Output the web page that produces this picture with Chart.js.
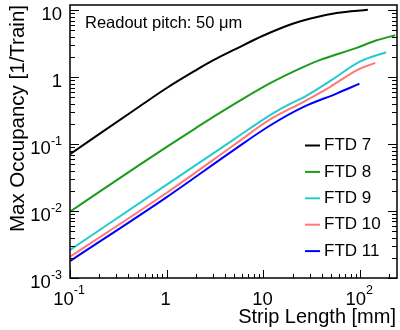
<!DOCTYPE html>
<html>
<head>
    <title>Max Occupancy</title>
    <script src="https://cdn.jsdelivr.net/npm/chart.js@4.4.1/dist/chart.umd.min.js"></script>
    <style>
        body { margin: 0; background: #fff; }
    </style>
</head>
<body>
    <canvas id="myChart" width="400" height="330"></canvas>
    <script>
        // strip length [mm] / max occupancy [1/Train]
        var ftd7X = [0.1, 0.5, 1, 2, 3, 5, 10, 20, 30, 57, 120];
        var ftd7Y = [0.071, 0.35, 0.69, 1.27, 1.78, 2.58, 4.2, 6.3, 7.5, 9.1, 10.2];
        var ftd8X = [0.1, 0.5, 1, 2, 3, 5.6, 12, 26, 38, 92, 148, 230];
        var ftd8Y = [0.0098, 0.047, 0.091, 0.174, 0.253, 0.44, 0.83, 1.43, 1.8, 2.75, 3.56, 4.24];
        var ftd9X = [0.1, 1, 5, 11.7, 18.8, 26, 49, 100, 185];
        var ftd9Y = [0.00262, 0.0248, 0.119, 0.272, 0.40, 0.50, 0.88, 1.72, 2.36];
        var ftd10X = [0.1, 1, 5, 11.7, 26, 49, 92, 143];
        var ftd10Y = [0.00208, 0.0188, 0.098, 0.234, 0.43, 0.72, 1.27, 1.64];
        var ftd11X = [0.1, 1, 5, 11.7, 26, 57, 98];
        var ftd11Y = [0.00179, 0.0162, 0.083, 0.19, 0.36, 0.57, 0.80];

        var seriesNames = ['FTD 7', 'FTD 8', 'FTD 9', 'FTD 10', 'FTD 11'];
        var seriesColors = ['#000000', '#1c9c1c', '#22cccc', '#ff7777', '#0000ff'];

        // axis ticks
        var xTickValues = [0.1, 1, 10, 100];
        var xTickBase = ['10', '1', '10', '10'];
        var xTickExp = ['-1', '', '', '2'];
        var yTickValues = [0.001, 0.01, 0.1, 1, 10];
        var yTickBase = ['10', '10', '10', '1', '10'];
        var yTickExp = ['-3', '-2', '-1', '', ''];

        var noteText = 'Readout pitch: 50 \u03bcm';
        var xTitle = 'Strip Length [mm]';
        var yTitle = 'Max Occupancy [1/Train]';

        var FONT = '"Liberation Sans", Arial, sans-serif';

        function pts(xs, ys) {
            var out = [];
            for (var i = 0; i < xs.length; i++) {
                out.push({ x: xs[i], y: ys[i] });
            }
            return out;
        }

        function minorTicks(min, max) {
            var out = [];
            for (var d = Math.floor(Math.log10(min)); d <= Math.ceil(Math.log10(max)); d++) {
                for (var k = 1; k <= 9; k++) {
                    var v = k * Math.pow(10, d);
                    if (v >= min * 0.999 && v <= max * 1.001) out.push({ v: v, major: k == 1 });
                }
            }
            return out;
        }

        function drawPow(ctx, base, exp, x, yBase, yExp, align) {
            ctx.font = '18.5px ' + FONT;
            var wb = ctx.measureText(base).width;
            ctx.font = '12.5px ' + FONT;
            var we = exp ? ctx.measureText(exp).width : 0;
            var left = align == 'right' ? x - wb - we : x - (wb + we) / 2;
            ctx.textAlign = 'left';
            ctx.font = '18.5px ' + FONT;
            ctx.fillText(base, left, yBase);
            if (exp) {
                ctx.font = '12.5px ' + FONT;
                ctx.fillText(exp, left + wb, yExp);
            }
        }

        var rootFrame = {
            id: 'rootFrame',
            afterDatasetsDraw: function (chart) {
                var ctx = chart.ctx;
                var xs = chart.scales.x, ys = chart.scales.y;
                var a = chart.chartArea;
                ctx.save();
                ctx.strokeStyle = '#000';
                ctx.fillStyle = '#000';
                ctx.lineWidth = 1.5;
                ctx.strokeRect(a.left, a.top, a.right - a.left, a.bottom - a.top);

                ctx.lineWidth = 1;
                ctx.beginPath();
                minorTicks(0.1, 240).forEach(function (t) {
                    var px = Math.round(xs.getPixelForValue(t.v)) + 0.5;
                    var len = t.major ? 8 : 4;
                    ctx.moveTo(px, a.bottom);
                    ctx.lineTo(px, a.bottom - len);
                });
                minorTicks(0.001, 12).forEach(function (t) {
                    var py = Math.round(ys.getPixelForValue(t.v)) + 0.5;
                    var len = t.major ? 9 : 5;
                    ctx.moveTo(a.left, py);
                    ctx.lineTo(a.left + len, py);
                    ctx.moveTo(a.right, py);
                    ctx.lineTo(a.right - len, py);
                });
                ctx.stroke();

                // tick labels
                ctx.textBaseline = 'alphabetic';
                for (var i = 0; i < xTickValues.length; i++) {
                    var px = xs.getPixelForValue(xTickValues[i]);
                    drawPow(ctx, xTickBase[i], xTickExp[i], px - 1, 305, 294, 'center');
                }
                for (var j = 0; j < yTickValues.length; j++) {
                    var py = ys.getPixelForValue(yTickValues[j]);
                    drawPow(ctx, yTickBase[j], yTickExp[j], 62, py + 10, py + 1, 'right');
                }

                // axis titles
                ctx.font = '20px ' + FONT;
                ctx.textAlign = 'right';
                ctx.fillText(xTitle, 396, 323);
                ctx.save();
                ctx.translate(24, 5);
                ctx.rotate(-Math.PI / 2);
                ctx.font = '20.5px ' + FONT;
                ctx.textAlign = 'right';
                ctx.fillText(yTitle, 0, 0);
                ctx.restore();

                // note
                ctx.font = '16.5px ' + FONT;
                ctx.textAlign = 'left';
                ctx.fillText(noteText, 85, 28);

                // legend
                ctx.font = '17px ' + FONT;
                ctx.textBaseline = 'middle';
                chart.data.datasets.forEach(function (ds, k) {
                    var ly = 145.5 + k * 26.4;
                    ctx.strokeStyle = ds.borderColor;
                    ctx.lineWidth = 2;
                    ctx.beginPath();
                    ctx.moveTo(305, ly);
                    ctx.lineTo(320, ly);
                    ctx.stroke();
                    ctx.fillText(ds.label, 324, ly);
                });
                ctx.restore();
            }
        };

        var xData = [ftd7X, ftd8X, ftd9X, ftd10X, ftd11X];
        var yData = [ftd7Y, ftd8Y, ftd9Y, ftd10Y, ftd11Y];
        var datasets = [];
        for (var s = 0; s < seriesNames.length; s++) {
            datasets.push({
                label: seriesNames[s],
                data: pts(xData[s], yData[s]),
                borderColor: seriesColors[s],
                backgroundColor: seriesColors[s],
                borderWidth: 2,
                pointRadius: 0,
                showLine: true,
                fill: false,
                cubicInterpolationMode: 'monotone'
            });
        }

        var ctx = document.getElementById('myChart').getContext('2d');
        var chart = new Chart(ctx, {
            type: 'scatter',
            data: { datasets: datasets },
            options: {
                responsive: false,
                animation: false,
                layout: { padding: { left: 70, right: 3, top: 5, bottom: 52 } },
                plugins: {
                    legend: { display: false },
                    tooltip: { enabled: false }
                },
                scales: {
                    x: { type: 'logarithmic', min: 0.1, max: 240, display: false },
                    y: { type: 'logarithmic', min: 0.001, max: 12, display: false }
                }
            },
            plugins: [rootFrame]
        });
    </script>
</body>
</html>
